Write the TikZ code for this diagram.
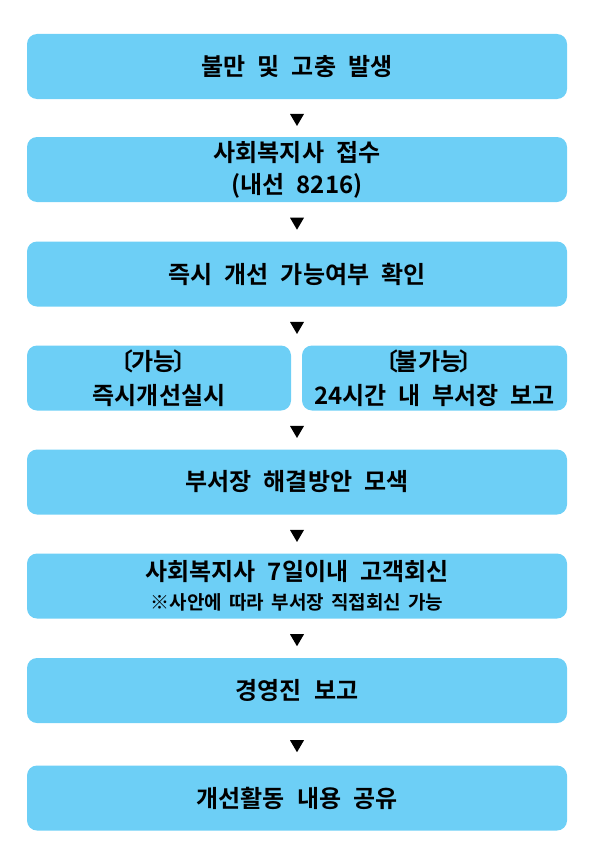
\documentclass[tikz,border=0pt]{standalone}
\usepackage{fontspec}
\usetikzlibrary{shapes.geometric,calc}
\newfontfamily\kr{Noto Sans CJK KR Bold}
\definecolor{boxblue}{HTML}{6DCFF6}
\newcommand{\lbr}{\hspace{-0.45em}〔\hspace{-0.1em}}
\newcommand{\rbr}{\hspace{-0.1em}〕\hspace{-0.45em}}
\newcommand{\boxfont}{\kr\fontsize{24}{32}\selectfont\spaceskip=12pt plus 0pt minus 0pt\relax}
\newcommand{\smallnote}{\fontsize{19}{22}\selectfont\spaceskip=7.2pt plus 0pt minus 0pt\relax}
\begin{document}
\begin{tikzpicture}[x=1pt,y=-1pt,
  box/.style={fill=boxblue, rounded corners=10pt, inner sep=0pt, text=black,
    font=\boxfont, align=center, minimum height=65pt},
  wide/.style={box, minimum width=540pt},
  half/.style={box, minimum width=264pt},
  tri/.style={fill=black, isosceles triangle, shape border rotate=-90,
    isosceles triangle apex angle=60, isosceles triangle stretches,
    minimum height=12pt, minimum width=14pt, inner sep=0pt}]
\useasboundingbox (0,0) rectangle (593,843);
\node[wide] (b1) at (297,66.5) {불만 및 고충 발생};
\node[wide] (b2) at (297,169.5) {사회복지사 접수\\(내선 8216)};
\node[wide] (b3) at (297,274) {즉시 개선 가능여부 확인};
\node[half] (b4l) at (159,378) {\lbr 가능\rbr\\[2pt]즉시개선실시};
\node[half, minimum width=265pt] (b4r) at (434.5,378) {\lbr 불가능\rbr\\[2pt]24시간 내 부서장 보고};
\node[wide] (b5) at (297,482) {부서장 해결방안 모색};
\node[wide] (b6) at (297,586) {사회복지사 7일이내 고객회신\\[-3pt]{\smallnote ※사안에 따라 부서장 직접회신 가능}};
\node[wide] (b7) at (297,690.5) {경영진 보고};
\node[wide] (b8) at (297,798) {개선활동 내용 공유};
\node[tri] (t1) at ($(b1.south)!0.5!(b2.north)$) {};
\node[tri] (t2) at ($(b2.south)!0.5!(b3.north)$) {};
\node[tri] (t3) at ($(b3.south)!0.5!(b4l.north -| b3.south)$) {};
\node[tri] (t4) at ($(b4l.south -| b5.north)!0.5!(b5.north)$) {};
\node[tri] (t5) at ($(b5.south)!0.5!(b6.north)$) {};
\node[tri] (t6) at ($(b6.south)!0.5!(b7.north)$) {};
\node[tri] (t7) at ($(b7.south)!0.5!(b8.north)$) {};
\end{tikzpicture}
\end{document}
